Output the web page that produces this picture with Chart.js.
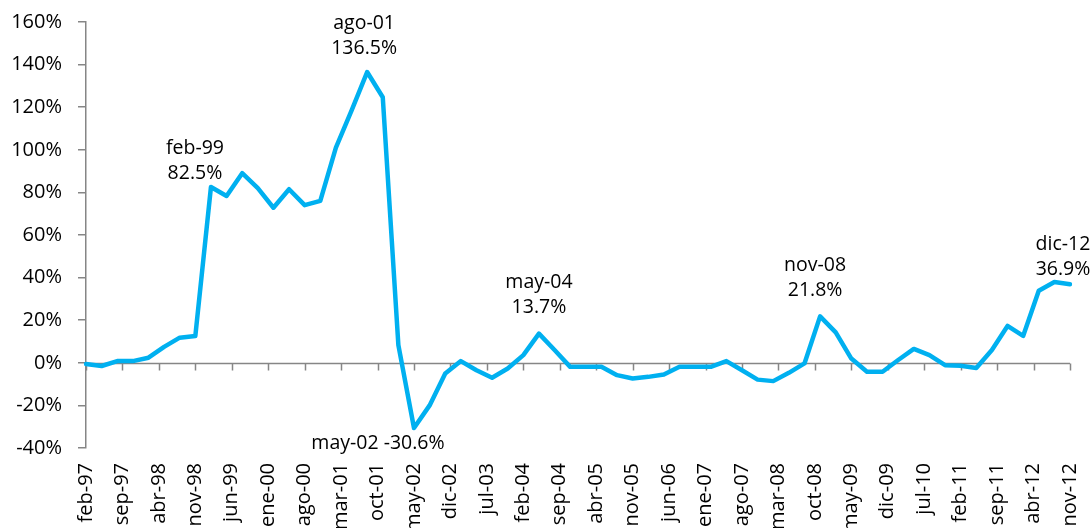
<!DOCTYPE html>
<html>
<head>
<meta charset="utf-8">
<script src="https://cdn.jsdelivr.net/npm/chart.js@4"></script>
<style>
  html, body { margin: 0; padding: 0; background: #fff; overflow: hidden; }
  #wrap { width: 1091px; height: 528px; }
</style>
</head>
<body>
<div id="wrap"><canvas id="grafico" width="1091" height="528"></canvas></div>
<script>
// meses en español, eje mensual desde feb-97 hasta nov-12
const MESES = ['ene', 'feb', 'mar', 'abr', 'may', 'jun', 'jul', 'ago', 'sep', 'oct', 'nov', 'dic'];
const MES_INICIO = 1;      // feb
const ANIO_INICIO = 1997;
const TOTAL_MESES = 190;   // feb-97 .. nov-12
const SALTO_ETIQUETA = 7;  // una etiqueta cada 7 meses

// variación trimestral (feb, may, ago, nov) en %
const variacion = [
  -0.6, -1.5, 0.8, 0.8,        // 1997
  2.4, 7.5, 11.8, 12.6,        // 1998
  82.5, 78.3, 89.0, 82.0,      // 1999
  72.8, 81.5, 74.0, 76.0,      // 2000
  101.0, 118.4, 136.5, 124.7,  // 2001
  8.3, -30.6, -20.0, -5.0,     // 2002
  0.8, -3.5, -7.0, -2.7,       // 2003
  3.6, 13.7, 6.0, -1.9,        // 2004
  -1.9, -1.9, -5.8, -7.4,      // 2005
  -6.6, -5.5, -1.9, -1.9,      // 2006
  -1.9, 0.8, -3.5, -7.9,       // 2007
  -8.6, -4.7, -0.3, 21.8,      // 2008
  14.3, 2.0, -4.2, -4.2,       // 2009
  1.3, 6.5, 3.6, -1.1,         // 2010
  -1.4, -2.4, 6.0, 17.3,       // 2011
  12.6, 33.8, 37.9, 36.9       // 2012
];

const yTicks = [-40, -20, 0, 20, 40, 60, 80, 100, 120, 140, 160];

// textos de los puntos destacados (mes = índice en el eje mensual)
const notasMes = [24, 54, 63, 87, 141, 189];
const notasTexto = [
  ['feb-99', '82.5%'],
  ['ago-01', '136.5%'],
  ['may-02 -30.6%'],
  ['may-04', '13.7%'],
  ['nov-08', '21.8%'],
  ['dic-12', '36.9%']
];
// desplazamiento del texto respecto al punto (px)
const notasDesp = [[-16, -14], [-3, -24], [-36, 15], [0, -26], [-5, -26], [-7, -15]];

const etiquetas = [];
for (let i = 0; i < TOTAL_MESES; i++) {
  const m = (MES_INICIO + i) % 12;
  const a = ANIO_INICIO + Math.floor((MES_INICIO + i) / 12);
  etiquetas.push(MESES[m] + '-' + String(a).slice(2));
}
const serie = etiquetas.map((_, i) => (i % 3 === 0 ? variacion[i / 3] : null));

const FUENTE = '"Open Sans", sans-serif';
const GRIS = '#868686';

// línea del cero con sus marcas (el eje X de Excel cruza en 0)
const lineaCero = {
  id: 'lineaCero',
  beforeDatasetsDraw(chart) {
    const { ctx, chartArea, scales } = chart;
    const y0 = Math.round(scales.y.getPixelForValue(0)) + 0.5;
    ctx.save();
    ctx.strokeStyle = GRIS;
    ctx.lineWidth = 1.5;
    ctx.beginPath();
    ctx.moveTo(chartArea.left, y0);
    ctx.lineTo(chartArea.right, y0);
    for (let i = 0; i < etiquetas.length; i += SALTO_ETIQUETA) {
      const x = Math.round(scales.x.getPixelForValue(i)) + 0.5;
      ctx.moveTo(x, y0);
      ctx.lineTo(x, y0 + 7);
    }
    ctx.stroke();
    ctx.restore();
  }
};

const notas = {
  id: 'notas',
  afterDatasetsDraw(chart) {
    const { ctx, scales } = chart;
    ctx.save();
    ctx.font = '19.5px ' + FUENTE;
    ctx.fillStyle = '#000';
    ctx.textAlign = 'center';
    ctx.textBaseline = 'middle';
    notasMes.forEach((mes, k) => {
      const x = scales.x.getPixelForValue(mes) + notasDesp[k][0];
      const y = scales.y.getPixelForValue(serie[mes]) + notasDesp[k][1];
      const lineas = notasTexto[k];
      lineas.forEach((t, j) => {
        ctx.fillText(t, x, y - (lineas.length - 1 - j) * 25);
      });
    });
    ctx.restore();
  }
};

new Chart(document.getElementById('grafico'), {
  type: 'line',
  data: {
    labels: etiquetas,
    datasets: [{
      data: serie,
      borderColor: '#00B0F0',
      borderWidth: 4.5,
      borderJoinStyle: 'round',
      borderCapStyle: 'round',
      pointRadius: 0,
      tension: 0,
      spanGaps: true,
      fill: false
    }]
  },
  options: {
    responsive: false,
    animation: false,
    layout: { padding: { top: 22, right: 21, left: 0, bottom: 0 } },
    plugins: { legend: { display: false }, tooltip: { enabled: false } },
    scales: {
      x: {
        type: 'category',
        offset: false,
        grid: { display: false, drawTicks: false },
        border: { display: false },
        ticks: {
          autoSkip: false,
          minRotation: 90,
          maxRotation: 90,
          padding: 15,
          color: '#000',
          font: { family: FUENTE, size: 20 },
          callback: (v, i) => (i % SALTO_ETIQUETA === 0 ? etiquetas[i] : '')
        },
        afterFit: (s) => {
          s.height = 80;
          s.paddingLeft = 0;
          s.paddingRight = 0;
        }
      },
      y: {
        min: -40,
        max: 160,
        afterBuildTicks: (s) => { s.ticks = yTicks.map(v => ({ value: v })); },
        grid: { drawOnChartArea: false, color: GRIS, lineWidth: 1.5, tickLength: 8 },
        border: { color: GRIS, width: 1.5 },
        ticks: {
          padding: 16,
          color: '#000',
          font: { family: FUENTE, size: 20 },
          callback: (v) => v + '%'
        },
        afterFit: (s) => {
          s.width = 86;
          s.paddingTop = 0;
          s.paddingBottom = 0;
        }
      }
    }
  },
  plugins: [lineaCero, notas]
});
</script>
</body>
</html>
